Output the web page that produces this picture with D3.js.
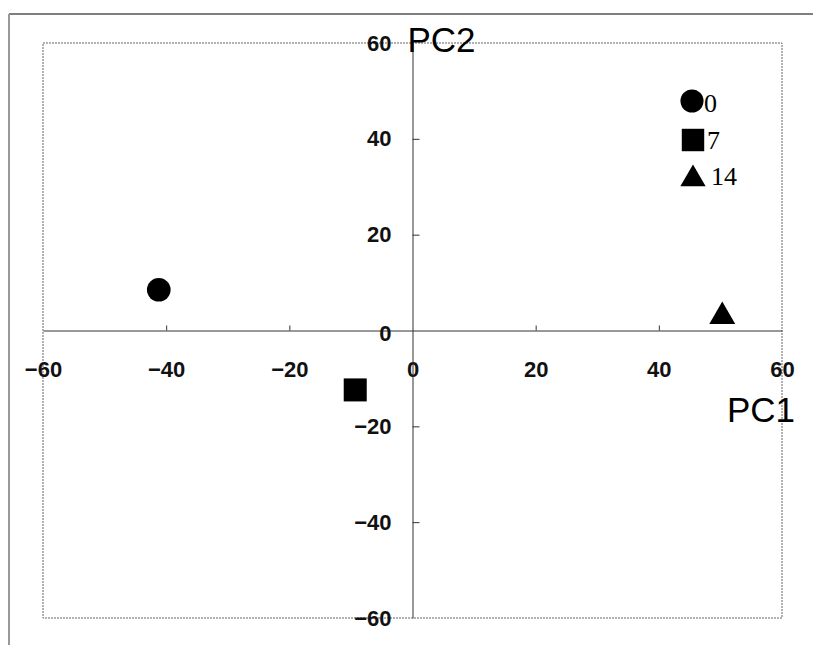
<!DOCTYPE html>
<html>
<head>
<meta charset="utf-8">
<script src="https://cdn.jsdelivr.net/npm/d3@7"></script>
<style>
  body { margin: 0; background: #fff; }
  svg { display: block; }
</style>
</head>
<body>
<svg id="chart" width="813" height="645"></svg>
<script>
// data
const groups = ["0", "7", "14"];
const pc1 = [-41.2, -9.3, 50.3];
const pc2 = [8.5, -12.4, 2.9];
const xTicks = [-60, -40, -20, 0, 20, 40, 60];
const yTicks = [-60, -40, -20, 0, 20, 40, 60];

const symbols = [d3.symbolCircle, d3.symbolSquare, d3.symbolTriangle];
const symSize = [440, 530, 292];

const svg = d3.select("#chart");
const margin = {top: 43, right: 31, bottom: 27, left: 43},
    width = 813 - margin.left - margin.right,
    height = 645 - margin.top - margin.bottom;

// outer frame of the scan
svg.append("line").attr("x1", 9).attr("x2", 813).attr("y1", 14).attr("y2", 14)
    .attr("stroke", "#555").attr("stroke-width", 1.3);
svg.append("line").attr("x1", 9).attr("x2", 9).attr("y1", 14).attr("y2", 645)
    .attr("stroke", "#999").attr("stroke-width", 2);

const g = svg.append("g")
    .attr("transform", "translate(" + margin.left + "," + margin.top + ")");

const x = d3.scaleLinear().domain([-60, 60]).range([0, width]);
const y = d3.scaleLinear().domain([-60, 60]).range([height, 0]);

// plot frame (dotted)
g.append("rect")
    .attr("x", 0).attr("y", 0)
    .attr("width", width).attr("height", height)
    .attr("fill", "none")
    .attr("stroke", "#666")
    .attr("stroke-width", 1)
    .attr("stroke-dasharray", "2,1");

const fmt = function(d) { return d < 0 ? "\u2212" + Math.abs(d) : String(d); };

// x axis through y=0, ticks pointing up
const xAxis = g.append("g")
    .attr("transform", "translate(0," + y(0) + ")")
    .call(d3.axisBottom(x).tickValues(xTicks).tickSize(-5).tickSizeOuter(0)
        .tickPadding(31).tickFormat(fmt));

// y axis through x=0, ticks pointing right
const yAxis = g.append("g")
    .attr("transform", "translate(" + x(0) + ",0)")
    .call(d3.axisLeft(y).tickValues(yTicks).tickSize(-7).tickSizeOuter(0)
        .tickPadding(21).tickFormat(fmt));

[xAxis, yAxis].forEach(function(a) {
  a.select(".domain").attr("stroke", "#333").attr("stroke-width", 1);
  a.selectAll(".tick line").attr("stroke", "#333");
  a.selectAll(".tick text")
      .attr("font-family", "Liberation Sans, Arial, sans-serif")
      .attr("font-size", "22px")
      .attr("font-weight", "bold")
      .attr("fill", "#111");
});
// no tick marks drawn on the frame edges
xAxis.selectAll(".tick").filter(function(d) { return d == -60 || d == 60 || d == 0; })
    .select("line").remove();
yAxis.selectAll(".tick").filter(function(d) { return d == -60 || d == 60 || d == 0; })
    .select("line").remove();
yAxis.selectAll(".tick").filter(function(d) { return d == 0; })
    .select("text").attr("dy", "0.45em");

// axis titles
g.append("text")
    .attr("x", x(0) - 5).attr("y", 9)
    .attr("font-family", "Liberation Sans, Arial, sans-serif")
    .attr("font-size", "35px")
    .text("PC2");
g.append("text")
    .attr("x", width - 55).attr("y", 379)
    .attr("font-family", "Liberation Sans, Arial, sans-serif")
    .attr("font-size", "35px")
    .text("PC1");

// points
g.selectAll(".pt")
    .data(groups)
    .enter().append("path")
    .attr("class", "pt")
    .attr("transform", function(d, i) { return "translate(" + x(pc1[i]) + "," + y(pc2[i]) + ")"; })
    .attr("d", function(d, i) { return d3.symbol().type(symbols[i]).size(symSize[i])(); })
    .attr("fill", "#000");

// legend
const legend = svg.append("g")
    .selectAll("g")
    .data(groups)
    .enter().append("g");

legend.append("path")
    .attr("transform", function(d, i) { return "translate(" + (692 + (i > 0 ? 1 : 0)) + "," + (101 + i * 39) + ")"; })
    .attr("d", function(d, i) { return d3.symbol().type(symbols[i]).size(symSize[i] * 0.95)(); })
    .attr("fill", "#000");

legend.append("text")
    .attr("x", function(d, i) { return [704, 707, 711][i]; })
    .attr("y", function(d, i) { return 112 + i * 36.5; })
    .attr("font-family", "Liberation Serif, Times New Roman, serif")
    .attr("font-size", "26px")
    .text(function(d) { return d; });
</script>
</body>
</html>
